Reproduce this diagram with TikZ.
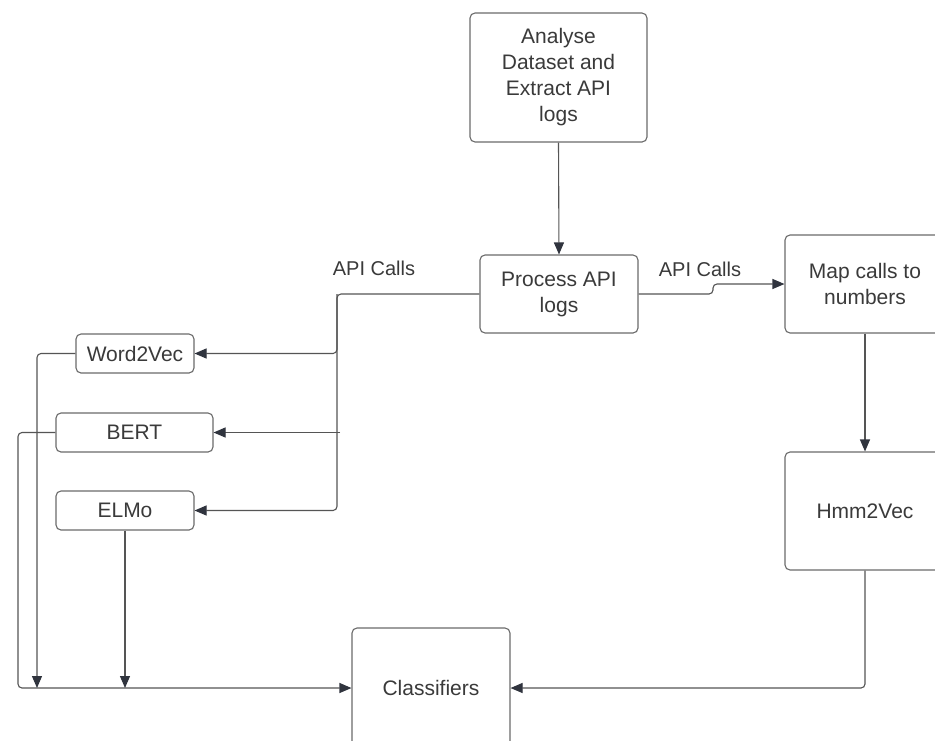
\documentclass[tikz,border=0pt]{standalone}
\usepackage{fontspec}
\setmainfont{Liberation Sans}
\usetikzlibrary{arrows.meta}
\definecolor{txt}{HTML}{3A3A3A}
\definecolor{ln}{HTML}{555555}
\definecolor{bx}{HTML}{6A6A6A}
\definecolor{tip}{HTML}{30343E}
\tikzset{
  box/.style={draw=bx, line width=1.1pt, rounded corners=5pt, align=center, text=txt,
    font=\fontsize{21}{26}\selectfont, inner sep=0pt},
  conn/.style={draw=ln, line width=1.1pt, rounded corners=4pt},
  arr/.style={conn, -{Triangle[length=12pt,width=10pt,color=tip]}},
  lbl/.style={text=txt, font=\fontsize{20}{24}\selectfont, inner sep=0pt}
}
\begin{document}
\begin{tikzpicture}[x=1pt,y=-1pt]
\useasboundingbox (0,0) rectangle (935,740);
\clip (0,0) rectangle (935,740);
\fill[white] (0,0) rectangle (935,740);
\node[box, minimum width=177pt, minimum height=129pt] (analyse) at (558.5,77.5) {Analyse\\Dataset and\\Extract API\\logs};
\node[box, minimum width=158pt, minimum height=78pt] (process) at (559,294) {Process API\\logs};
\node[box, minimum width=160pt, minimum height=98pt] (map) at (865,284) {Map calls to\\numbers};
\node[box, minimum width=160pt, minimum height=118pt] (hmm) at (865,511) {Hmm2Vec};
\node[box, minimum width=158pt, minimum height=120pt] (cls) at (431,688) {Classifiers};
\node[box, minimum width=118pt, minimum height=39pt] (w2v) at (135,353.5) {Word2Vec};
\node[box, minimum width=157pt, minimum height=39pt] (bert) at (134.5,432.5) {BERT};
\node[box, minimum width=138pt, minimum height=39pt] (elmo) at (125,510.5) {ELMo};
\node[lbl] (l1) at (374,268) {API Calls};
\node[lbl] (l2) at (700,269) {API Calls};
\coordinate (j) at (337,294);
\coordinate (jm) at (713,294);
\coordinate (lb) at (18,688);
\coordinate (lw) at (37,688);
\coordinate (le) at (125,688);
\draw[arr] (analyse.south) -- (process.north);
\draw[arr] (process.east) -- (jm) -- (713,284) -- (map.west);
\draw[arr] (map.south) -- (hmm.north);
\draw[arr] (hmm.south) |- (cls.east);
\draw[arr] (process.west) -- (j) |- (w2v.east);
\draw[arr] (j) |- (elmo.east);
\draw[arr] (340,432.5) -- (bert.east);
\draw[arr] (bert.west) -| (lb) -- (cls.west);
\draw[arr] (w2v.west) -| (lw);
\draw[arr] (elmo.south) -- (le);
\end{tikzpicture}
\end{document}
